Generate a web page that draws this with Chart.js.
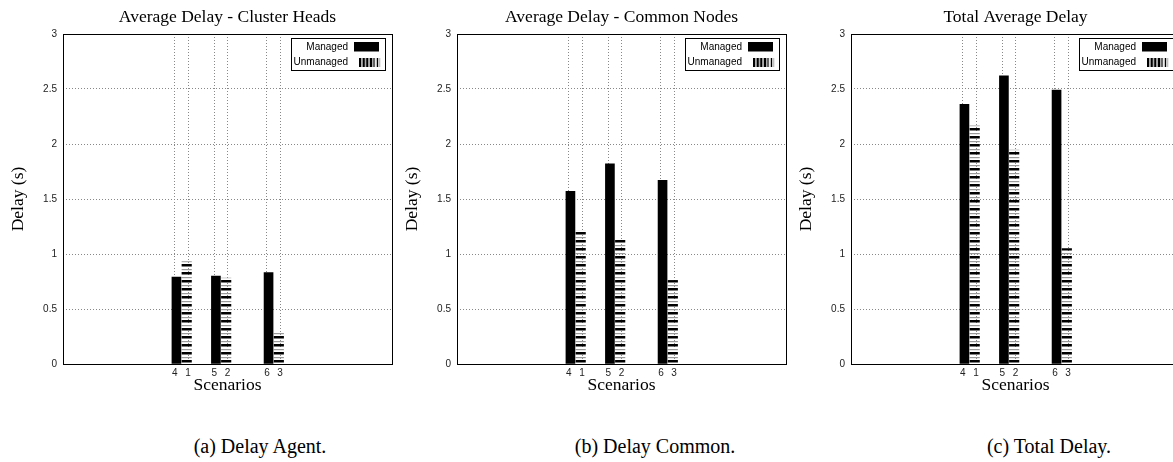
<!DOCTYPE html>
<html>
<head>
<meta charset="utf-8">
<title>Average Delay</title>
<script src="https://cdn.jsdelivr.net/npm/chart.js@4.4.1/dist/chart.umd.min.js"></script>
<style>
    html, body { margin: 0; padding: 0; background: #fff; }
    body { width: 1173px; height: 462px; position: relative; overflow: hidden; }
    .panel { position: absolute; top: 0; width: 394px; height: 400px; }
    .caption {
        position: absolute; top: 436px;
        font: 20px "Liberation Serif", serif; line-height: 20px;
        white-space: nowrap; transform: translateX(-50%); color: #000;
    }
</style>
</head>
<body>
<div class="panel" style="left:0"><canvas id="chart-agent"></canvas></div>
<div class="panel" style="left:394px"><canvas id="chart-common"></canvas></div>
<div class="panel" style="left:788px"><canvas id="chart-total"></canvas></div>
<div class="caption" style="left:260px">(a) Delay Agent.</div>
<div class="caption" style="left:655px">(b) Delay Common.</div>
<div class="caption" style="left:1049px">(c) Total Delay.</div>

<script>
// ===== data =====
// x position of each scenario on the plot (gnuplot style numeric axis)
var scenarioPos = [8.5, 9.5, 11.5, 12.5, 15.5, 16.5];
var scenarioLabels = ['4', '1', '5', '2', '6', '3'];
var managedPos = [8.5, 11.5, 15.5];    // scenarios 4, 5, 6
var unmanagedPos = [9.5, 12.5, 16.5];  // scenarios 1, 2, 3

var agentManaged = [0.79, 0.80, 0.83];
var agentUnmanaged = [0.93, 0.78, 0.28];
var commonManaged = [1.57, 1.82, 1.67];
var commonUnmanaged = [1.21, 1.13, 0.76];
var totalManaged = [2.36, 2.62, 2.49];
var totalUnmanaged = [2.165, 1.945, 1.05];

// ===== utils =====
// the boxes sit a little inside their tick lines, like in the original plot
function points(pos, values, shift) {
    return pos.map(function (x, i) { return { x: x + shift, y: values[i] }; });
}

function makeHatch() {
    var c = document.createElement('canvas');
    c.width = 10; c.height = 8;
    var g = c.getContext('2d');
    g.fillStyle = '#000';
    g.fillRect(0, 0, 10, 2.5);
    g.fillStyle = '#999';
    g.fillRect(0, 5, 10, 1.2);
    return g.createPattern(c, 'repeat');
}
var hatch = makeHatch();

// border round the plot + gnuplot like key box
var frameKeyPlugin = {
    id: 'frameKey',
    afterDraw: function (chart) {
        var a = chart.chartArea, ctx = chart.ctx;
        var L = Math.round(a.left), T = Math.round(a.top), R = Math.round(a.right), B = Math.round(a.bottom);
        var ds = chart.data.datasets;
        ctx.save();
        ctx.strokeStyle = '#000';
        ctx.lineWidth = 1;
        ctx.strokeRect(L + 0.5, T + 0.5, R - L, B - T);

        ctx.strokeRect(R - 100.5, T + 4.5, 94, 32);
        ctx.font = '10px "Liberation Sans"';
        ctx.textAlign = 'right';
        ctx.textBaseline = 'middle';
        ctx.fillStyle = '#000';
        ctx.fillText(ds[0].label, R - 44, T + 13);
        ctx.fillText(ds[1].label, R - 44, T + 28);
        ctx.fillRect(R - 38, T + 8, 25, 9.5);
        for (var i = 0; i < 6; i++) {
            ctx.fillStyle = '#000';
            ctx.fillRect(R - 33 + i * 3.6, T + 24, i < 4 ? 2.2 : 1.2, 9);
            ctx.fillStyle = '#999';
            ctx.fillRect(R - 30.6 + i * 3.6, T + 24, 0.8, 9);
        }
        ctx.restore();
    }
};

Chart.defaults.font.family = '"Liberation Sans", sans-serif';
Chart.defaults.color = '#222';

var serif = { family: '"Liberation Serif", serif', size: 17.5, weight: 'normal' };

function makeChart(id, title, managed, unmanaged) {
    return new Chart(document.getElementById(id), {
        type: 'bar',
        data: {
            datasets: [
                { label: 'Managed', data: points(managedPos, managed, 0.12), backgroundColor: '#000',
                  borderWidth: 0, barThickness: 9, grouped: false },
                { label: 'Unmanaged', data: points(unmanagedPos, unmanaged, -0.1), backgroundColor: hatch,
                  borderWidth: 0, barThickness: 9.5, grouped: false }
            ]
        },
        options: {
            responsive: true,
            maintainAspectRatio: false,
            animation: false,
            events: [],
            layout: { padding: { left: 0, right: 2, top: 0, bottom: 0 } },
            plugins: {
                legend: { display: false },
                tooltip: { enabled: false },
                title: { display: true, text: title, fullSize: false, color: '#000', font: serif,
                         padding: { top: 7, bottom: 6 } }
            },
            scales: {
                x: {
                    type: 'linear', min: 0, max: 25, offset: false,
                    afterFit: function (s) { s.height = 36; },
                    afterBuildTicks: function (s) {
                        s.ticks = scenarioPos.map(function (v) { return { value: v }; });
                    },
                    ticks: {
                        autoSkip: false, maxRotation: 0, padding: 3, font: { size: 10 },
                        callback: function (v, i) { return scenarioLabels[i]; }
                    },
                    grid: { drawTicks: false, color: '#888', offset: false },
                    border: { display: false, dash: [1, 2] },
                    title: { display: true, text: 'Scenarios', color: '#000', font: serif,
                             padding: { top: 0, bottom: 4 } }
                },
                y: {
                    min: 0, max: 3,
                    afterFit: function (s) { s.width = 63; },
                    ticks: {
                        stepSize: 0.5, padding: 6, font: { size: 10 },
                        callback: function (v) { return String(v); }
                    },
                    grid: { drawTicks: false, color: '#888' },
                    border: { display: false, dash: [1, 2] },
                    title: { display: true, text: 'Delay (s)', color: '#000', font: serif,
                             padding: { top: 8, bottom: 0 } }
                }
            }
        },
        plugins: [frameKeyPlugin]
    });
}

// ===== init =====
makeChart('chart-agent', 'Average Delay - Cluster Heads', agentManaged, agentUnmanaged);
makeChart('chart-common', 'Average Delay - Common Nodes', commonManaged, commonUnmanaged);
makeChart('chart-total', 'Total Average Delay', totalManaged, totalUnmanaged);
</script>
</body>
</html>
